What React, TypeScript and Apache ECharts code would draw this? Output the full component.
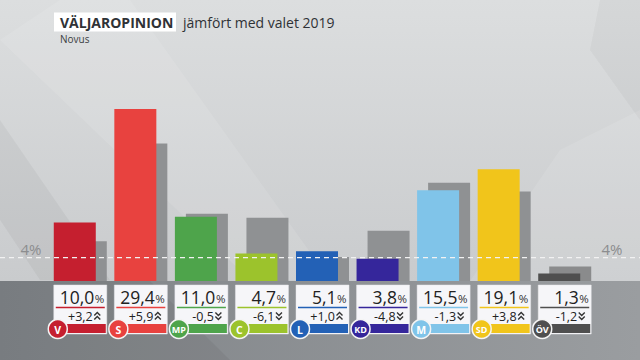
import React, { useEffect, useRef } from "react";
import * as echarts from "echarts";

const parties = ["V", "S", "MP", "C", "L", "KD", "M", "SD", "ÖV"];
const current = [10.0, 29.4, 11.0, 4.7, 5.1, 3.8, 15.5, 19.1, 1.3];
const election2019 = [6.8, 23.5, 11.5, 10.8, 4.1, 8.6, 16.8, 15.3, 2.5];
const change = [3.2, 5.9, -0.5, -6.1, 1.0, -4.8, -1.3, 3.8, -1.2];
const partyColors = ["#c51f2f", "#e8423f", "#4ea44b", "#9cc32c", "#2361b6", "#35269b", "#80c4e9", "#f1c51b", "#4f4f4f"];
const threshold = 4;

const FONT = '"Open Sans", "Noto Sans", sans-serif';

function fmt(v: number) {
  return v.toFixed(1).replace(".", ",");
}
function fmtDelta(v: number) {
  return (v >= 0 ? "+" : "-") + Math.abs(v).toFixed(1).replace(".", ",");
}

export default function App() {
  const ref = useRef<HTMLDivElement>(null);
  useEffect(() => {
    const chart = echarts.init(ref.current!, null, { renderer: "svg" });
    const groupW = 53;
    const option: any = {
      animation: false,
      backgroundColor: "#d6d8da",
      grid: { left: 50, right: 45, top: 105.5, bottom: 79 },
      xAxis: {
        type: "category",
        data: parties,
        axisLine: { show: false },
        axisTick: { show: false },
        axisLabel: { show: false },
      },
      yAxis: {
        type: "value",
        min: 0,
        max: 30,
        splitLine: { show: false },
        axisLabel: { show: false },
        axisLine: { show: false },
      },
      series: [
        {
          type: "bar",
          name: "Novus",
          barWidth: 42,
          barGap: "-73.8%",
          z: 3,
          data: current.map((v, i) => ({ value: v, itemStyle: { color: partyColors[i] } })),
        },
        {
          type: "bar",
          name: "Valet 2019",
          barWidth: 42,
          z: 2,
          data: election2019.map((v, i) => ({
            value: v,
            itemStyle: { color: i === 8 ? "#8a8b8c" : "#8f9193" },
          })),
        },
        {
          type: "custom",
          z: 5,
          data: parties.map((p, i) => [i, current[i], change[i]]),
          renderItem: (params: any, api: any) => {
            const i = api.value(0);
            const pt = api.coord([i, 0]);
            const cx = pt[0];
            const by = pt[1];
            const left = cx - groupW / 2;
            const right = cx + groupW / 2;
            const col = partyColors[i];
            const d = change[i];
            const up = d >= 0;
            const chevX = right - 9.5;
            const chevY = by + 35;
            const chev = (dy: number) =>
              up
                ? [[chevX - 3, chevY + dy + 1.5], [chevX, chevY + dy - 1.5], [chevX + 3, chevY + dy + 1.5]]
                : [[chevX - 3, chevY + dy - 1.5], [chevX, chevY + dy + 1.5], [chevX + 3, chevY + dy - 1.5]];
            return {
              type: "group",
              children: [
                {
                  type: "rect",
                  shape: { x: left, y: by + 4, width: groupW, height: 49 },
                  style: { fill: "#f6f6f9", stroke: "#e6e6ea", lineWidth: 0.5 },
                },
                {
                  type: "text",
                  style: {
                    text: fmt(current[i]),
                    x: right - 12.5,
                    y: by + 16,
                    align: "right",
                    verticalAlign: "middle",
                    font: `500 17.5px ${FONT}`,
                    fill: "#222",
                  },
                },
                {
                  type: "text",
                  style: {
                    text: "%",
                    x: right - 12,
                    y: by + 17,
                    align: "left",
                    verticalAlign: "middle",
                    font: `400 11.5px ${FONT}`,
                    fill: "#333",
                  },
                },
                {
                  type: "line",
                  shape: { x1: left + 2, y1: by + 26.5, x2: right - 2, y2: by + 26.5 },
                  style: { stroke: col, lineWidth: 1.5 },
                },
                {
                  type: "text",
                  style: {
                    text: fmtDelta(d),
                    x: right - 14,
                    y: by + 35.5,
                    align: "right",
                    verticalAlign: "middle",
                    font: `500 12.5px ${FONT}`,
                    fill: "#222",
                  },
                },
                {
                  type: "polyline",
                  shape: { points: chev(-2) },
                  style: { stroke: "#333", lineWidth: 1.4, fill: null },
                },
                {
                  type: "polyline",
                  shape: { points: chev(2) },
                  style: { stroke: "#333", lineWidth: 1.4, fill: null },
                },
                {
                  type: "rect",
                  shape: { x: left + 1, y: by + 43, width: groupW - 2, height: 9 },
                  style: { fill: col },
                },
                {
                  type: "circle",
                  shape: { cx: left + 4, cy: by + 48, r: 9.5 },
                  style: { fill: col, stroke: "#f4f4f4", lineWidth: 1.5 },
                },
                {
                  type: "text",
                  style: {
                    text: parties[i],
                    x: left + 4,
                    y: by + 48.5,
                    align: "center",
                    verticalAlign: "middle",
                    font: `700 ${parties[i].length > 1 ? 9 : 10.5}px ${FONT}`,
                    fill: "#fff",
                  },
                },
              ],
            };
          },
        },
      ],
    };
    chart.setOption(option);
    const y0 = chart.convertToPixel({ yAxisIndex: 0 }, 0) as number;
    const y4 = chart.convertToPixel({ yAxisIndex: 0 }, threshold) as number;
    chart.setOption({
      graphic: [
        {
          type: "rect",
          z: -10,
          shape: { x: 0, y: 0, width: 640, height: y0 },
          style: {
            fill: new echarts.graphic.LinearGradient(0, 0, 0, 1, [
              { offset: 0, color: "#dcdedf" },
              { offset: 1, color: "#c9cbcd" },
            ]),
          },
        },
        {
          type: "polygon",
          z: -9,
          shape: { points: [[0, 40], [60, 0], [130, 0], [330, 280], [250, 280]] },
          style: { fill: "rgba(255,255,255,0.1)" },
        },
        {
          type: "polygon",
          z: -9,
          shape: { points: [[0, 220], [0, 120], [110, 280], [40, 280]] },
          style: { fill: "rgba(0,0,0,0.04)" },
        },
        {
          type: "polygon",
          z: -9,
          shape: { points: [[600, 0], [640, 0], [640, 120], [590, 50]] },
          style: { fill: "rgba(0,0,0,0.03)" },
        },
        {
          type: "polygon",
          z: -9,
          shape: { points: [[470, 281], [560, 150], [640, 110], [640, 281]] },
          style: { fill: "rgba(255,255,255,0.1)" },
        },
        {
          type: "rect",
          z: -10,
          shape: { x: 0, y: y0, width: 640, height: 360 - y0 },
          style: {
            fill: new echarts.graphic.LinearGradient(0, 0, 1, 0, [
              { offset: 0, color: "#7f8387" },
              { offset: 1, color: "#9a9da0" },
            ]),
          },
        },
        {
          type: "polygon",
          z: -9,
          shape: { points: [[0, y0], [150, y0], [230, 360], [0, 360]] },
          style: { fill: "rgba(0,0,0,0.05)" },
        },
        {
          type: "line",
          z: 10,
          shape: { x1: 0, y1: y4, x2: 640, y2: y4 },
          style: { stroke: "#f2f2f2", lineWidth: 1.2, lineDash: [5, 4] },
        },
        {
          type: "text",
          z: 10,
          style: {
            text: threshold + "%",
            x: 31,
            y: y4 - 9,
            align: "center",
            verticalAlign: "middle",
            font: `400 15px ${FONT}`,
            fill: "#8c8d8f",
          },
        },
        {
          type: "text",
          z: 10,
          style: {
            text: threshold + "%",
            x: 612,
            y: y4 - 9,
            align: "center",
            verticalAlign: "middle",
            font: `400 15px ${FONT}`,
            fill: "#8c8d8f",
          },
        },
        {
          type: "rect",
          z: 10,
          shape: { x: 54, y: 12.5, width: 122, height: 19 },
          style: { fill: "#ffffff" },
        },
        {
          type: "text",
          z: 11,
          style: {
            text: "VÄLJAROPINION",
            x: 60,
            y: 22.5,
            align: "left",
            verticalAlign: "middle",
            font: `700 14px ${FONT}`,
            fill: "#2f3236",
          },
        },
        {
          type: "text",
          z: 11,
          style: {
            text: "jämfört med valet 2019",
            x: 183,
            y: 22,
            align: "left",
            verticalAlign: "middle",
            font: `400 14px ${FONT}`,
            fill: "#2f3236",
          },
        },
        {
          type: "text",
          z: 11,
          style: {
            text: "Novus",
            x: 60,
            y: 39,
            align: "left",
            verticalAlign: "middle",
            font: `400 10px ${FONT}`,
            fill: "#3b3e42",
          },
        },
      ],
    });
    return () => chart.dispose();
  }, []);
  return (
    <div
      ref={ref}
      style={{ position: "fixed", left: 0, top: 0, width: 640, height: 360 }}
    />
  );
}
